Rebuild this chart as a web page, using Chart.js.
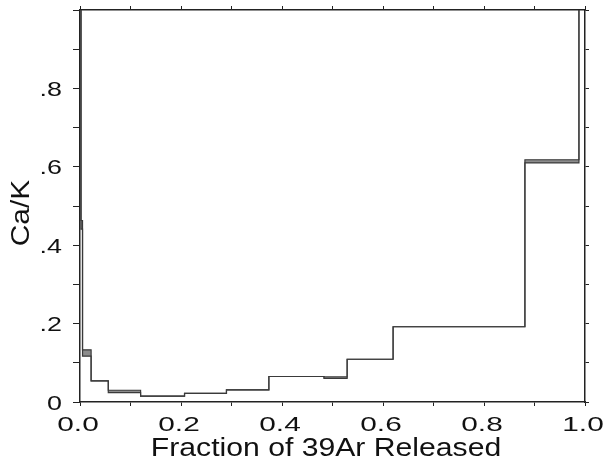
<!DOCTYPE html>
<html>
<head>
<meta charset="utf-8">
<script src="https://cdn.jsdelivr.net/npm/chart.js@4"></script>
<style>
  html, body { margin: 0; padding: 0; background: #fff; }
  #wrap { width: 610px; height: 465px; }
</style>
</head>
<body>
<div id="wrap"><canvas id="spectrumChart" width="610" height="465"></canvas></div>
<script>
// step edges (fraction of 39Ar released) and Ca/K for each step
const stepEdges = [0, 0.002, 0.005, 0.022, 0.056, 0.12, 0.207, 0.29, 0.374, 0.483, 0.529, 0.62, 0.881, 0.988, 1.0];
const caKLow  = [1.3, 0.441, 0.117, 0.054, 0.024, 0.015, 0.022, 0.031, 0.065, 0.060, 0.109, 0.192, 0.610, 1.3];
const caKHigh = [1.3, 0.463, 0.133, 0.054, 0.030, 0.015, 0.022, 0.031, 0.065, 0.064, 0.109, 0.192, 0.618, 1.3];

// labelled ticks
const xTickValues = [0, 0.2, 0.4, 0.6, 0.8, 1.0];
const xTickLabels = ['0.0', '0.2', '0.4', '0.6', '0.8', '1.0'];
const yTickValues = [0, 0.2, 0.4, 0.6, 0.8];
const yTickLabels = ['0', '.2', '.4', '.6', '.8'];

const xTitle = 'Fraction of 39Ar Released';
const yTitle = 'Ca/K';

// build step points: each step starts at its left edge, last point closes at 1.0
function stepPoints(vals) {
    let pts = vals.map((v, i) => ({x: stepEdges[i], y: v}));
    pts.push({x: stepEdges[stepEdges.length - 1], y: vals[vals.length - 1]});
    return pts;
}

const axisColor = '#222';
const fontFamily = "'Liberation Sans', Arial, sans-serif";

function fixSize(size, horizontal) {
    return function (scale) {
        if (horizontal) scale.height = size; else scale.width = size;
    };
}

// the original lettering is wide, so draw it stretched sideways
function drawWide(c, text, x, y, size, sx, align, rotate) {
    c.save();
    c.translate(x, y);
    if (rotate) c.rotate(-Math.PI / 2);
    c.scale(sx, 1);
    c.font = size + 'px ' + fontFamily;
    c.fillStyle = '#111';
    c.textAlign = align;
    c.textBaseline = 'alphabetic';
    c.fillText(text, 0, 0);
    c.restore();
}

const wideLabels = {
    id: 'wideLabels',
    afterDraw(chart) {
        const c = chart.ctx;
        const xs = chart.scales.x;
        const ys = chart.scales.y;
        xTickValues.forEach((v, i) => {
            drawWide(c, xTickLabels[i], xs.getPixelForValue(v) - 2, 430.5, 21, 1.42, 'center', false);
        });
        yTickValues.forEach((v, i) => {
            drawWide(c, yTickLabels[i], 62, ys.getPixelForValue(v) + 7.5, 21, 1.28, 'right', false);
        });
        drawWide(c, xTitle, 326, 456, 26, 1.16, 'center', false);
        drawWide(c, yTitle, 28.5, 213, 26, 1.15, 'center', true);
    }
};

const ctx = document.getElementById('spectrumChart');

new Chart(ctx, {
    type: 'line',
    data: {
        datasets: [{
            data: stepPoints(caKLow),
            stepped: 'before',
            borderColor: '#3a3a3a',
            borderWidth: 1.2,
            pointRadius: 0,
            fill: false
        }, {
            data: stepPoints(caKHigh),
            stepped: 'before',
            borderColor: '#3a3a3a',
            borderWidth: 1.2,
            pointRadius: 0,
            backgroundColor: '#8c8c8c',
            fill: '-1'
        }]
    },
    options: {
        responsive: false,
        animation: false,
        layout: {padding: 0},
        plugins: {legend: {display: false}, tooltip: {enabled: false}},
        scales: {
            x: {
                type: 'linear',
                position: 'bottom',
                min: 0, max: 1,
                afterFit: fixSize(63, true),
                border: {color: axisColor, width: 1.5},
                grid: {drawOnChartArea: false, tickLength: 4, color: axisColor},
                ticks: {stepSize: 0.1, autoSkip: false, display: false}
            },
            x2: {
                type: 'linear',
                position: 'top',
                min: 0, max: 1,
                afterFit: fixSize(10, true),
                border: {color: axisColor, width: 1.5},
                grid: {drawOnChartArea: false, tickLength: 4, color: axisColor},
                ticks: {stepSize: 0.1, autoSkip: false, display: false}
            },
            y: {
                type: 'linear',
                position: 'left',
                min: 0, max: 1,
                afterFit: fixSize(80, false),
                border: {color: axisColor, width: 1.5},
                grid: {drawOnChartArea: false, tickLength: 7, color: axisColor},
                ticks: {stepSize: 0.1, autoSkip: false, display: false}
            },
            y2: {
                type: 'linear',
                position: 'right',
                min: 0, max: 1,
                afterFit: fixSize(25, false),
                border: {color: axisColor, width: 1.5},
                grid: {drawOnChartArea: false, tickLength: 4, color: axisColor},
                ticks: {stepSize: 0.1, autoSkip: false, display: false}
            }
        }
    },
    plugins: [wideLabels]
});
</script>
</body>
</html>
